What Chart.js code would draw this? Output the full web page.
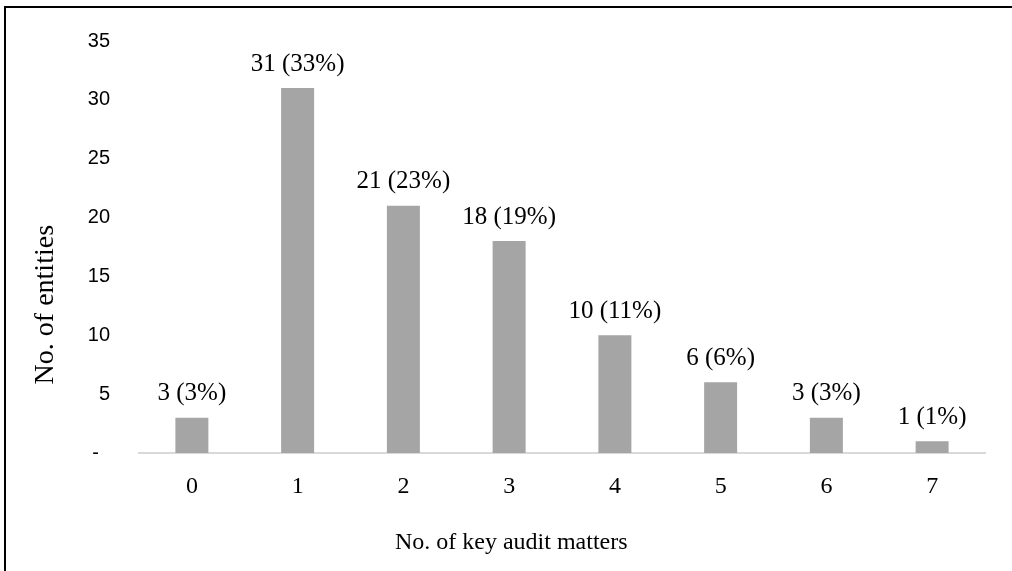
<!DOCTYPE html>
<html>
<head>
<meta charset="utf-8">
<script src="https://cdn.jsdelivr.net/npm/chart.js@4/dist/chart.umd.min.js"></script>
<style>
  html, body { margin: 0; padding: 0; background: #fff; }
  #wrap { width: 1012px; height: 571px; position: relative; }
</style>
</head>
<body>
<div id="wrap"><canvas id="c" width="1012" height="571"></canvas></div>
<script>
const categories = ['0', '1', '2', '3', '4', '5', '6', '7'];
const entityCounts = [3, 31, 21, 18, 10, 6, 3, 1];
const percentLabels = ['3%', '33%', '23%', '19%', '11%', '6%', '3%', '1%'];
const yTickValues = [0, 5, 10, 15, 20, 25, 30, 35];
const xAxisTitle = 'No. of key audit matters';
const yAxisTitle = 'No. of entities';

const SERIF = '"Liberation Serif", "Times New Roman", serif';
const SANS = '"Liberation Sans", Arial, sans-serif';

const decorPlugin = {
  id: 'decor',
  beforeDraw(chart) {
    const ctx = chart.ctx;
    ctx.save();
    ctx.fillStyle = '#ffffff';
    ctx.fillRect(0, 0, chart.width, chart.height);
    ctx.strokeStyle = '#000000';
    ctx.lineWidth = 2;
    ctx.beginPath();
    ctx.moveTo(5, chart.height);
    ctx.lineTo(5, 7);
    ctx.lineTo(chart.width, 7);
    ctx.stroke();
    ctx.restore();
  },
  afterDatasetsDraw(chart) {
    const ctx = chart.ctx;
    const meta = chart.getDatasetMeta(0);
    ctx.save();
    ctx.fillStyle = '#000000';
    ctx.font = '25px ' + SERIF;
    ctx.textAlign = 'center';
    ctx.textBaseline = 'middle';
    meta.data.forEach((bar, i) => {
      ctx.fillText(entityCounts[i] + ' (' + percentLabels[i] + ')', bar.x, bar.y - 24);
    });
    // axis titles
    const area = chart.chartArea;
    ctx.font = '24px ' + SERIF;
    ctx.fillText(xAxisTitle, area.left + (area.right - area.left) * 0.44, 543);
    ctx.font = '28px ' + SERIF;
    ctx.translate(46, area.top + (area.bottom - area.top) * 0.64);
    ctx.rotate(-Math.PI / 2);
    ctx.fillText(yAxisTitle, 0, 0);
    ctx.restore();
  }
};

new Chart(document.getElementById('c'), {
  type: 'bar',
  data: {
    labels: categories,
    datasets: [{
      data: entityCounts,
      backgroundColor: '#A5A5A5',
      borderWidth: 0,
      barPercentage: 0.312,
      categoryPercentage: 1.0
    }]
  },
  options: {
    responsive: false,
    animation: false,
    devicePixelRatio: 1,
    layout: { padding: { top: 38, right: 27, left: 0, bottom: 0 } },
    plugins: {
      legend: { display: false },
      tooltip: { enabled: false },
      title: { display: false }
    },
    scales: {
      x: {
        grid: { display: false, drawTicks: false },
        border: { display: true, color: '#D9D9D9', width: 2 },
        ticks: {
          color: '#000000',
          font: { family: SERIF, size: 24 },
          padding: 19,
          maxRotation: 0
        },
        afterFit(scale) { scale.height = 571 - 453; }
      },
      y: {
        min: 0,
        max: 35,
        grid: { display: false, drawTicks: false },
        border: { display: false },
        afterBuildTicks(scale) {
          scale.ticks = yTickValues.map(v => ({ value: v }));
        },
        ticks: {
          color: '#000000',
          font: { family: SANS, size: 20 },
          padding: 29,
          callback(v) { return v === 0 ? '-  ' : String(v); }
        },
        afterFit(scale) { scale.width = 139; }
      }
    }
  },
  plugins: [decorPlugin]
});
</script>
</body>
</html>
